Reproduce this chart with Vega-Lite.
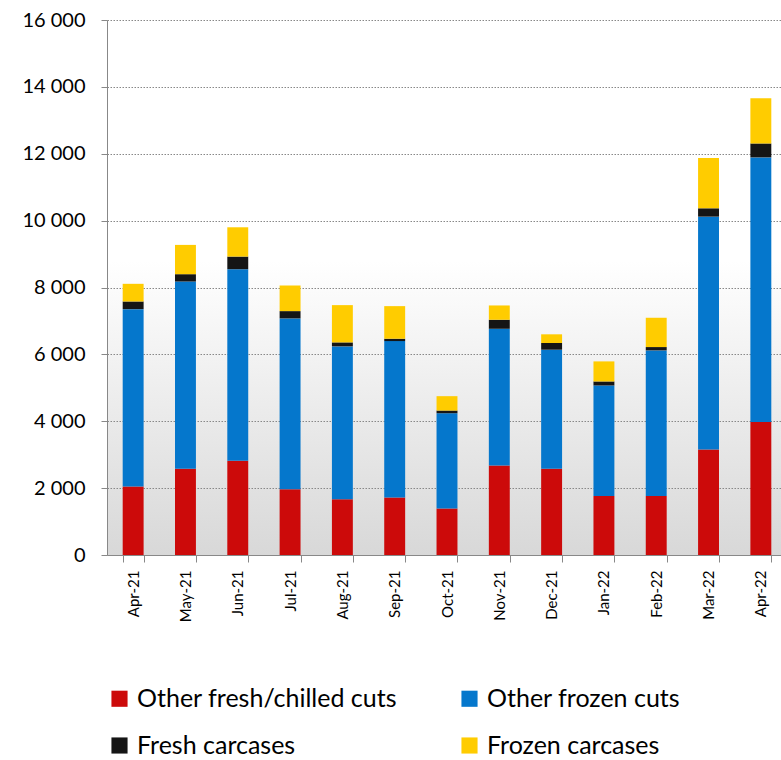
{
  "$schema": "https://vega.github.io/schema/vega-lite/v6.json",
  "width": 680,
  "height": 535,
  "padding": {"left": 5, "top": 10, "right": 5, "bottom": 5},
  "background": "white",
  "datasets": {
    "categoryOrder": [
      {"category": "Other fresh/chilled cuts", "rank": 1},
      {"category": "Other frozen cuts", "rank": 2},
      {"category": "Fresh carcases", "rank": 3},
      {"category": "Frozen carcases", "rank": 4}
    ]
  },
  "data": {
    "values": [
      {"month": "Apr-21", "category": "Other fresh/chilled cuts", "value": 2045},
      {"month": "Apr-21", "category": "Other frozen cuts", "value": 5308},
      {"month": "Apr-21", "category": "Fresh carcases", "value": 229},
      {"month": "Apr-21", "category": "Frozen carcases", "value": 528},
      {"month": "May-21", "category": "Other fresh/chilled cuts", "value": 2580},
      {"month": "May-21", "category": "Other frozen cuts", "value": 5599},
      {"month": "May-21", "category": "Fresh carcases", "value": 219},
      {"month": "May-21", "category": "Frozen carcases", "value": 876},
      {"month": "Jun-21", "category": "Other fresh/chilled cuts", "value": 2820},
      {"month": "Jun-21", "category": "Other frozen cuts", "value": 5727},
      {"month": "Jun-21", "category": "Fresh carcases", "value": 378},
      {"month": "Jun-21", "category": "Frozen carcases", "value": 876},
      {"month": "Jul-21", "category": "Other fresh/chilled cuts", "value": 1965},
      {"month": "Jul-21", "category": "Other frozen cuts", "value": 5110},
      {"month": "Jul-21", "category": "Fresh carcases", "value": 219},
      {"month": "Jul-21", "category": "Frozen carcases", "value": 766},
      {"month": "Aug-21", "category": "Other fresh/chilled cuts", "value": 1667},
      {"month": "Aug-21", "category": "Other frozen cuts", "value": 4572},
      {"month": "Aug-21", "category": "Fresh carcases", "value": 119},
      {"month": "Aug-21", "category": "Frozen carcases", "value": 1115},
      {"month": "Sep-21", "category": "Other fresh/chilled cuts", "value": 1717},
      {"month": "Sep-21", "category": "Other frozen cuts", "value": 4681},
      {"month": "Sep-21", "category": "Fresh carcases", "value": 70},
      {"month": "Sep-21", "category": "Frozen carcases", "value": 975},
      {"month": "Oct-21", "category": "Other fresh/chilled cuts", "value": 1390},
      {"month": "Oct-21", "category": "Other frozen cuts", "value": 2850},
      {"month": "Oct-21", "category": "Fresh carcases", "value": 80},
      {"month": "Oct-21", "category": "Frozen carcases", "value": 430},
      {"month": "Nov-21", "category": "Other fresh/chilled cuts", "value": 2680},
      {"month": "Nov-21", "category": "Other frozen cuts", "value": 4086},
      {"month": "Nov-21", "category": "Fresh carcases", "value": 269},
      {"month": "Nov-21", "category": "Frozen carcases", "value": 428},
      {"month": "Dec-21", "category": "Other fresh/chilled cuts", "value": 2580},
      {"month": "Dec-21", "category": "Other frozen cuts", "value": 3560},
      {"month": "Dec-21", "category": "Fresh carcases", "value": 200},
      {"month": "Dec-21", "category": "Frozen carcases", "value": 260},
      {"month": "Jan-22", "category": "Other fresh/chilled cuts", "value": 1767},
      {"month": "Jan-22", "category": "Other frozen cuts", "value": 3303},
      {"month": "Jan-22", "category": "Fresh carcases", "value": 120},
      {"month": "Jan-22", "category": "Frozen carcases", "value": 600},
      {"month": "Feb-22", "category": "Other fresh/chilled cuts", "value": 1767},
      {"month": "Feb-22", "category": "Other frozen cuts", "value": 4352},
      {"month": "Feb-22", "category": "Fresh carcases", "value": 100},
      {"month": "Feb-22", "category": "Frozen carcases", "value": 876},
      {"month": "Mar-22", "category": "Other fresh/chilled cuts", "value": 3156},
      {"month": "Mar-22", "category": "Other frozen cuts", "value": 6963},
      {"month": "Mar-22", "category": "Fresh carcases", "value": 249},
      {"month": "Mar-22", "category": "Frozen carcases", "value": 1503},
      {"month": "Apr-22", "category": "Other fresh/chilled cuts", "value": 3980},
      {"month": "Apr-22", "category": "Other frozen cuts", "value": 7911},
      {"month": "Apr-22", "category": "Fresh carcases", "value": 417},
      {"month": "Apr-22", "category": "Frozen carcases", "value": 1354}
    ]
  },
  "transform": [
    {"lookup": "category", "from": {"data": {"name": "categoryOrder"}, "key": "category", "fields": ["rank"]}}
  ],
  "mark": {"type": "bar"},
  "encoding": {
    "x": {
      "field": "month",
      "type": "ordinal",
      "sort": ["Apr-21", "May-21", "Jun-21", "Jul-21", "Aug-21", "Sep-21", "Oct-21", "Nov-21", "Dec-21", "Jan-22", "Feb-22", "Mar-22", "Apr-22"],
      "scale": {"paddingInner": 0.6, "paddingOuter": 0.3},
      "axis": {
        "title": null,
        "labelAngle": -90,
        "labelAlign": "right",
        "labelBaseline": "middle",
        "labelFont": "Lato",
        "labelFontSize": 15,
        "labelColor": "#000000",
        "labelPadding": 8,
        "tickBand": "extent",
        "tickSize": 7,
        "tickColor": "#888888",
        "domainColor": "#888888",
        "grid": false
      }
    },
    "y": {
      "field": "value",
      "type": "quantitative",
      "stack": "zero",
      "scale": {"domain": [0, 16000], "nice": false},
      "axis": {
        "title": null,
        "values": [0, 2000, 4000, 6000, 8000, 10000, 12000, 14000, 16000],
        "labelExpr": "replace(format(datum.value, ','), ',', ' ')",
        "labelFont": "Lato",
        "labelFontSize": 20,
        "labelColor": "#000000",
        "labelPadding": 16,
        "tickSize": 6,
        "tickColor": "#888888",
        "domainColor": "#888888",
        "grid": true,
        "gridColor": "#888888",
        "gridDash": [1.5, 1.5],
        "gridWidth": 1,
        "minExtent": 102,
        "maxExtent": 102
      }
    },
    "order": {"field": "rank", "type": "quantitative", "sort": "ascending"},
    "color": {
      "field": "category",
      "type": "nominal",
      "sort": ["Other fresh/chilled cuts", "Other frozen cuts", "Fresh carcases", "Frozen carcases"],
      "scale": {
        "domain": ["Other fresh/chilled cuts", "Other frozen cuts", "Fresh carcases", "Frozen carcases"],
        "range": ["#cc0a0a", "#0577cc", "#151515", "#ffcc00"]
      },
      "legend": {
        "title": null,
        "orient": "none",
        "direction": "horizontal",
        "legendX": 0,
        "legendY": 666,
        "columns": 2,
        "columnPadding": 59,
        "rowPadding": 21,
        "symbolType": "square",
        "symbolSize": 260,
        "symbolStrokeWidth": 0,
        "labelFont": "Lato",
        "labelFontSize": 25,
        "labelColor": "#000000",
        "labelLimit": 400,
        "labelOffset": 5
      }
    }
  },
  "config": {
    "view": {
      "stroke": null,
      "fill": {
        "gradient": "linear",
        "x1": 0, "y1": 0, "x2": 0, "y2": 1,
        "stops": [
          {"offset": 0, "color": "#ffffff"},
          {"offset": 0.45, "color": "#ffffff"},
          {"offset": 1, "color": "#d8d8d8"}
        ]
      }
    }
  }
}
